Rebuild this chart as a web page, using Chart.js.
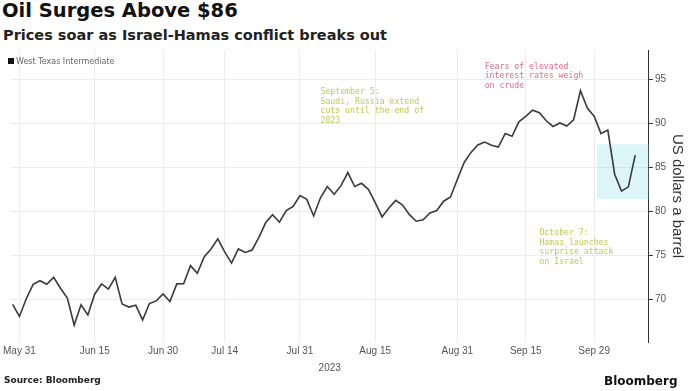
<!DOCTYPE html>
<html>
<head>
<meta charset="utf-8">
<script src="https://cdn.jsdelivr.net/npm/chart.js@4"></script>
<style>
  body { margin: 0; background: #fff; }
  #wrap { position: relative; width: 688px; height: 391px; overflow: hidden; font-family: "DejaVu Sans", sans-serif; }
  #title { position: absolute; left: 2px; top: -1px; font-size: 19.5px; font-weight: bold; color: #111; white-space: nowrap; }
  #subtitle { position: absolute; left: 3px; top: 27px; font-size: 14.5px; font-weight: bold; color: #222; white-space: nowrap; }
  #legend { position: absolute; left: 8px; top: 57px; font-size: 8px; color: #666; white-space: nowrap; }
  #legend span { display: inline-block; width: 6px; height: 6px; background: #111; margin-right: 2px; }
  #source { position: absolute; left: 4px; top: 375px; font-size: 9px; font-weight: bold; color: #222; }
  #brand { position: absolute; left: 604px; top: 374px; font-size: 12px; font-weight: bold; color: #111; }
  canvas { position: absolute; left: 0; top: 0; }
</style>
</head>
<body>
<div id="wrap">
  <div id="title">Oil Surges Above $86</div>
  <div id="subtitle">Prices soar as Israel-Hamas conflict breaks out</div>
  <canvas id="oilChart" width="688" height="378"></canvas>
  <div id="legend"><span></span>West Texas Intermediate</div>
  <div id="source">Source: Bloomberg</div>
  <div id="brand">Bloomberg</div>
</div>
<script>
// WTI front-month settlements, one entry per trading day
const dates = [
  "2023-05-30", "2023-05-31", "2023-06-01", "2023-06-02", "2023-06-05", "2023-06-06", "2023-06-07",
  "2023-06-08", "2023-06-09", "2023-06-12", "2023-06-13", "2023-06-14", "2023-06-15", "2023-06-16",
  "2023-06-20", "2023-06-21", "2023-06-22", "2023-06-23", "2023-06-26", "2023-06-27", "2023-06-28",
  "2023-06-29", "2023-06-30", "2023-07-03", "2023-07-05", "2023-07-06", "2023-07-07", "2023-07-10",
  "2023-07-11", "2023-07-12", "2023-07-13", "2023-07-14", "2023-07-17", "2023-07-18", "2023-07-19",
  "2023-07-20", "2023-07-21", "2023-07-24", "2023-07-25", "2023-07-26", "2023-07-27", "2023-07-28",
  "2023-07-31", "2023-08-01", "2023-08-02", "2023-08-03", "2023-08-04", "2023-08-07", "2023-08-08",
  "2023-08-09", "2023-08-10", "2023-08-11", "2023-08-14", "2023-08-15", "2023-08-16", "2023-08-17",
  "2023-08-18", "2023-08-21", "2023-08-22", "2023-08-23", "2023-08-24", "2023-08-25", "2023-08-28",
  "2023-08-29", "2023-08-30", "2023-08-31", "2023-09-01", "2023-09-05", "2023-09-06", "2023-09-07",
  "2023-09-08", "2023-09-11", "2023-09-12", "2023-09-13", "2023-09-14", "2023-09-15", "2023-09-18",
  "2023-09-19", "2023-09-20", "2023-09-21", "2023-09-22", "2023-09-25", "2023-09-26", "2023-09-27",
  "2023-09-28", "2023-09-29", "2023-10-02", "2023-10-03", "2023-10-04", "2023-10-05", "2023-10-06",
  "2023-10-09"
];

const wti = [
  69.46, 68.09, 70.10, 71.74, 72.15, 71.74, 72.53,
  71.29, 70.17, 67.12, 69.42, 68.27, 70.62, 71.78,
  71.19, 72.53, 69.51, 69.16, 69.37, 67.70, 69.56,
  69.86, 70.64, 69.79, 71.79, 71.80, 73.86, 72.99,
  74.83, 75.75, 76.89, 75.42, 74.15, 75.75, 75.35,
  75.63, 77.07, 78.74, 79.63, 78.78, 80.09, 80.58,
  81.80, 81.37, 79.49, 81.55, 82.82, 81.94, 82.92,
  84.40, 82.82, 83.19, 82.51, 80.99, 79.38, 80.39,
  81.25, 80.72, 79.64, 78.89, 79.05, 79.83, 80.10,
  81.16, 81.63, 83.63, 85.55, 86.69, 87.54, 87.87,
  87.51, 87.29, 88.84, 88.52, 90.16, 90.77, 91.48,
  91.20, 90.28, 89.63, 90.03, 89.68, 90.39, 93.68,
  91.71, 90.79, 88.82, 89.23, 84.22, 82.31, 82.79,
  86.38
];

const tickDates = ["2023-05-31", "2023-06-15", "2023-06-30", "2023-07-14", "2023-07-31",
  "2023-08-15", "2023-08-31", "2023-09-15", "2023-09-29"];
const tickLabels = ["May 31", "Jun 15", "Jun 30", "Jul 14", "Jul 31", "Aug 15", "Aug 31", "Sep 15", "Sep 29"];
const yTicks = [70, 75, 80, 85, 90, 95];

// Trading days are spaced evenly, so x is the row number
const points = wti.map((v, i) => ({ x: i, y: v }));
const tickIndex = tickDates.map((d) => dates.indexOf(d));

const notes = [
  { at: "2023-08-03", y: 94.0, color: "#b9cc55",
    lines: ["September 5:", "Saudi, Russia extend", "cuts until the end of", "2023"] },
  { at: "2023-09-07", y: 96.9, color: "#dc6d8c",
    lines: ["Fears of elevated", "interest rates weigh", "on crude"] },
  { at: "2023-09-19", y: 78.0, color: "#b9cc55",
    lines: ["October 7:", "Hamas launches", "surprise attack", "on Israel"] }
];

// shaded window around the post-attack rebound
const highlight = { from: "2023-09-29", y1: 81.4, y2: 87.6 };

const notesPlugin = {
  id: "notes",
  beforeDatasetsDraw(chart) {
    const { ctx, scales: { x, y }, chartArea } = chart;
    const left = x.getPixelForValue(dates.indexOf(highlight.from) + 0.4);
    ctx.save();
    ctx.fillStyle = "rgba(120, 215, 230, 0.26)";
    ctx.fillRect(left, y.getPixelForValue(highlight.y2), chartArea.right - left,
      y.getPixelForValue(highlight.y1) - y.getPixelForValue(highlight.y2));
    ctx.restore();
  },
  afterDatasetsDraw(chart) {
    const { ctx, scales: { x, y } } = chart;
    ctx.save();
    ctx.font = "8.2px 'DejaVu Sans Mono', monospace";
    ctx.textBaseline = "top";
    notes.forEach((n) => {
      const px = x.getPixelForValue(dates.indexOf(n.at));
      const py = y.getPixelForValue(n.y);
      ctx.fillStyle = n.color;
      n.lines.forEach((t, i) => ctx.fillText(t, px, py + i * 9.5));
    });
    ctx.restore();
  }
};

new Chart(document.getElementById("oilChart"), {
  type: "line",
  data: {
    datasets: [
      {
        label: "West Texas Intermediate",
        data: points,
        borderColor: "#3a3a3a",
        borderWidth: 1.6,
        pointRadius: 0,
        tension: 0,
      },
    ],
  },
  options: {
    responsive: false,
    animation: false,
    layout: { padding: { top: 50, left: 3, right: 0, bottom: 0 } },
    plugins: {
      legend: { display: false },
      tooltip: { enabled: false },
    },
    scales: {
      x: {
        type: "linear",
        min: -0.3,
        max: 93,
        afterBuildTicks: (scale) => {
          scale.ticks = tickIndex.map((v) => ({ value: v }));
        },
        ticks: {
          autoSkip: false,
          maxRotation: 0,
          color: "#555",
          font: { family: "Liberation Sans", size: 10 },
          padding: 3,
          callback: (v) => tickLabels[tickIndex.indexOf(v)],
        },
        grid: { color: "#ececec", drawTicks: false },
        border: { display: false },
        title: {
          display: true,
          text: "2023",
          color: "#555",
          font: { family: "Liberation Sans", size: 10 },
          padding: { top: 2, bottom: 4 },
        },
      },
      y: {
        position: "right",
        min: 65.2,
        max: 98.3,
        afterBuildTicks: (scale) => {
          scale.ticks = yTicks.map((v) => ({ value: v }));
        },
        ticks: {
          color: "#555",
          font: { family: "Liberation Sans", size: 10 },
          padding: 2,
        },
        grid: { color: "#ececec", tickColor: "#333", tickLength: 4 },
        border: { color: "#333" },
        title: {
          display: true,
          text: "US dollars a barrel",
          color: "#333",
          font: { family: "Liberation Sans", size: 15 },
          padding: { top: 2, bottom: 0 },
        },
      },
    },
  },
  plugins: [notesPlugin],
});
</script>
</body>
</html>
